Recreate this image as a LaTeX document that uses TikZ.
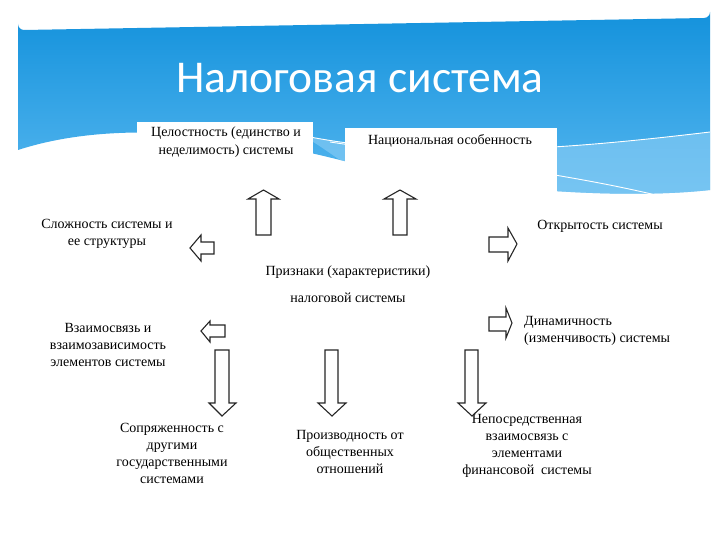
\documentclass[tikz,border=0pt]{standalone}
\usepackage{fontspec}
\setmainfont{Liberation Serif}
\newfontfamily\titlefont{Carlito}
\begin{document}
\begin{tikzpicture}[x=1pt,y=-1pt,
  lbl/.style={align=center,inner sep=0pt,font=\fontsize{14}{17}\selectfont},
  blockarr/.style={draw=black!85,line width=1.1pt,fill=white,line join=miter},
  wbox/.style={fill=white,draw=none}]
\useasboundingbox (0,0) rectangle (720,540);
\fill[white] (0,0) rectangle (720,540);
% blue header
\definecolor{bluetop}{RGB}{20,146,220}
\definecolor{bluebot}{RGB}{88,184,240}
\definecolor{bluelight}{RGB}{140,206,245}
\shade[top color=bluetop,bottom color=bluebot]
  (18,150) -- (18,24) arc[start angle=180,end angle=90,radius=6] -- (704,18)
  arc[start angle=90,end angle=0,radius=6] -- (710,190)
  .. controls (620,200) and (470,190) .. (340,160)
  .. controls (230,132) and (110,120) .. (18,150) -- cycle;
% lighter band
\fill[bluelight,opacity=0.6]
  (300,135) .. controls (420,160) and (560,150) .. (710,132) -- (710,190)
  .. controls (620,200) and (470,190) .. (340,160) .. controls (325,150) and (312,140) .. (300,135) -- cycle;
\draw[white,line width=0.9pt] (300,135) .. controls (420,160) and (560,150) .. (710,132);
\draw[white,line width=0.9pt] (330,142) .. controls (450,160) and (560,172) .. (660,196);
% title
\node[text=white,font=\titlefont\fontsize{45.5}{45.5}\selectfont] (title) at (360,78) {Налоговая система};
% top white boxes
\fill[wbox] (137,122) rectangle (313,165);
\fill[wbox] (345,128) rectangle (557,197);
\node[lbl,font=\fontsize{14}{18}\selectfont] (celost) at (226,142) {Целостность (единство и\\неделимость) системы};
\node[lbl] (nacion) at (450,141) {Национальная особенность};
% centre text
\node[lbl] (priz1) at (348,272) {Признаки (характеристики)};
\node[lbl] (priz2) at (348,298) {налоговой системы};
% side texts
\node[lbl] (slozh) at (107,234) {Сложность системы и\\ее структуры};
\node[lbl] (vzaim) at (108,345) {Взаимосвязь и\\взаимозависимость\\элементов системы};
\node[lbl] (otkr) at (600,226) {Открытость системы};
\node[lbl,align=left,anchor=west] (dinam) at (524,330.5) {Динамичность\\(изменчивость) системы};
\node[lbl] (sopr) at (172,453) {Сопряженность с\\другими\\государственными\\системами};
\node[lbl] (proizv) at (350,452) {Производность от\\общественных\\отношений};
\node[lbl] (neposr) at (527,446) {Непосредственная\\взаимосвязь с\\элементами\\финансовой \ системы};
% block arrows
\draw[blockarr] (263.5,190) -- (279,199) -- (271,199) -- (271,235) -- (256,235) -- (256,199) -- (248,199) -- cycle;
\draw[blockarr] (400,190) -- (416,199) -- (407,199) -- (407,235) -- (393,235) -- (393,199) -- (384,199) -- cycle;
\draw[blockarr] (190,248) -- (201,235) -- (201,242) -- (214,242) -- (214,254) -- (201,254) -- (201,261) -- cycle;
\draw[blockarr] (201,331) -- (210,321) -- (210,325) -- (225,325) -- (225,337) -- (210,337) -- (210,342) -- cycle;
\draw[blockarr] (517,244) -- (508,228) -- (508,237) -- (489,237) -- (489,252) -- (508,252) -- (508,261) -- cycle;
\draw[blockarr] (512,323) -- (506,308) -- (506,317) -- (489,317) -- (489,331) -- (506,331) -- (506,338) -- cycle;
\draw[blockarr] (222,416) -- (236,403) -- (229,403) -- (229,350) -- (215,350) -- (215,403) -- (209,403) -- cycle;
\draw[blockarr] (332,416) -- (346,403) -- (338,403) -- (338,350) -- (325,350) -- (325,403) -- (318,403) -- cycle;
\draw[blockarr] (472,416) -- (486,403) -- (478,403) -- (478,350) -- (465,350) -- (465,403) -- (458,403) -- cycle;
\end{tikzpicture}
\end{document}
